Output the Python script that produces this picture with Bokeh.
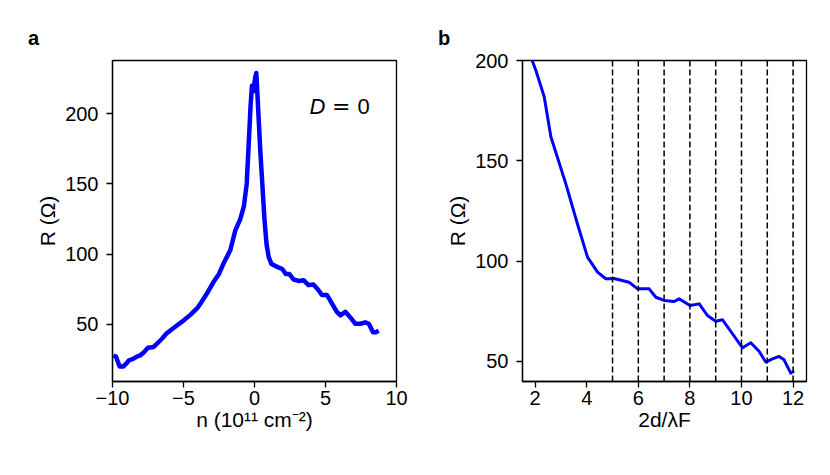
from bokeh.plotting import figure
from bokeh.layouts import row
from bokeh.models import Label, Span, FixedTicker, Range1d, Title
from bokeh.embed import file_html
from bokeh.resources import INLINE

# ---------------- data ----------------
# panel a: resistance vs carrier density (D = 0)
n_a = [-9.93, -9.75, -9.5, -9.25, -9.0, -8.85, -8.55, -8.3, -8.05, -7.8, -7.5, -7.1,
       -6.8, -6.5, -6.2, -5.7, -5.1, -4.5, -4.0, -3.8, -3.35, -2.9, -2.5, -2.2, -1.7,
       -1.35, -1.0, -0.75, -0.55, -0.4, -0.28, -0.18, -0.08, 0.05, 0.13, 0.25, 0.4,
       0.55, 0.7, 0.85, 1.0, 1.2, 1.6, 1.95, 2.2, 2.45, 2.75, 3.1, 3.45, 3.8, 4.15,
       4.5, 4.75, 5.1, 5.45, 5.8, 6.05, 6.4, 6.75, 7.1, 7.45, 7.8, 8.05, 8.35, 8.55, 8.75]
R_a = [28, 27, 20, 20, 22.5, 24.5, 25.5, 27, 28, 30, 33.5, 34,
       37, 40, 43.5, 47.5, 52, 57, 62, 65, 72, 80, 86, 93, 103,
       117, 125, 134, 150, 180, 205, 220, 216, 226, 229, 205, 175,
       150, 125, 107, 98, 93, 91, 89.5, 86, 86, 82, 81, 81.5, 78, 78.5,
       74.5, 71, 71, 65, 59, 56.5, 59, 55, 50.5, 50.5, 51.5, 50.5, 44.5, 44.5, 45.5]

# panel b: resistance vs 2d/lambda_F
x_b = [1.8, 2.03, 2.35, 2.61, 3.19, 3.64, 4.03, 4.42, 4.74, 5.06, 5.64, 5.97, 6.42,
       6.68, 7.0, 7.39, 7.58, 8.0, 8.36, 8.68, 9.0, 9.26, 9.65, 10.04, 10.36, 10.68,
       10.94, 11.2, 11.46, 11.65, 11.91, 12.04]
R_b = [203, 195, 182, 162, 138.5, 118.6, 102, 94.5, 91.2, 91.3, 89.5, 86.2, 86.2,
       82, 80.4, 79.9, 81.2, 77.9, 78.7, 72.9, 70, 70.8, 63.8, 56.8, 59.3, 55.1,
       49.7, 51.3, 52.5, 50.8, 44.2, 45.2]
vlines_b = [5, 6, 7, 8, 9, 10, 11, 12]

xticks_a = [-10, -5, 0, 5, 10]
yticks_a = [50, 100, 150, 200]
xticks_b = [2, 4, 6, 8, 10, 12]
yticks_b = [50, 100, 150, 200]
xtick_labels_a = {-10: "\u221210", -5: "\u22125"}

xlabel_a = "n (10\u00b9\u00b9 cm\u207b\u00b2)"
xlabel_b = "2d/\u03bbF"
ylabel = "R (\u03a9)"

FONT = "Liberation Sans"


def make_fig(width, xr, yr, left, right, xticks, yticks, panel_letter):
    p = figure(width=width, height=450, x_range=Range1d(*xr), y_range=Range1d(*yr),
               output_backend="svg", toolbar_location=None,
               min_border_left=left, min_border_right=right,
               min_border_top=60, min_border_bottom=69,
               background_fill_color="white", border_fill_color="white")
    p.xgrid.visible = False
    p.ygrid.visible = False
    p.outline_line_color = "black"
    p.outline_line_width = 1.3
    p.outline_line_alpha = 1.0
    p.xaxis.ticker = FixedTicker(ticks=xticks)
    p.yaxis.ticker = FixedTicker(ticks=yticks)
    for ax in (p.xaxis, p.yaxis):
        ax.axis_line_color = "black"
        ax.axis_line_width = 1.3
        ax.major_tick_line_color = "black"
        ax.major_tick_line_width = 1.3
        ax.major_tick_out = 6
        ax.major_tick_in = 0
        ax.minor_tick_line_color = None
        ax.major_label_text_font = FONT
        ax.major_label_text_font_size = "20px"
        ax.major_label_text_color = "black"
        ax.axis_label_text_font = FONT
        ax.axis_label_text_font_size = "21px"
        ax.axis_label_text_font_style = "normal"
        ax.axis_label_text_color = "black"
    p.xaxis.major_label_standoff = 3
    p.yaxis.major_label_standoff = 8
    p.xaxis.axis_label_standoff = 0
    p.yaxis.axis_label_standoff = 3
    p.title = Title(text=panel_letter, align="left", offset=-84.5, standoff=24,
                    text_font=FONT, text_font_size="20px", text_font_style="bold",
                    text_color="black")
    return p


def lab(p, x, y, text, size, style="normal", font=FONT):
    p.add_layout(Label(x=x, y=y, x_units="screen", y_units="screen", text=text,
                       text_font=font, text_font_size=f"{size}px",
                       text_font_style=style, text_color="black",
                       text_align="left", text_baseline="alphabetic"))


# ---------------- panel a ----------------
pa = make_fig(414, (-10, 10), (9.4, 237.9), 112, 18, xticks_a, yticks_a, "a")
pa.xaxis.major_label_overrides = xtick_labels_a
pa.xaxis.axis_label = xlabel_a
pa.yaxis.axis_label = ylabel
pa.line(n_a, R_a, line_color="#0000ff", line_width=4.5, line_join="round")

lab(pa, 197, 275, "D", 22, "italic")
lab(pa, 219.5, 275, "=", 22, "normal", "DejaVu Sans")
lab(pa, 245, 275, "0", 22)

# ---------------- panel b ----------------
pb = make_fig(406, (1.51, 12.52), (40, 200), 108, 14, xticks_b, yticks_b, "b")
for v in vlines_b:
    pb.add_layout(Span(location=v, dimension="height", line_color="black",
                       line_width=1.5, line_dash="6 3"))
pb.line(x_b, R_b, line_color="#0000ff", line_width=3, line_join="round")
pb.xaxis.axis_label = xlabel_b
pb.yaxis.axis_label = ylabel

layout = row(pa, pb)
open("out.html", "w").write(file_html(layout, INLINE))
